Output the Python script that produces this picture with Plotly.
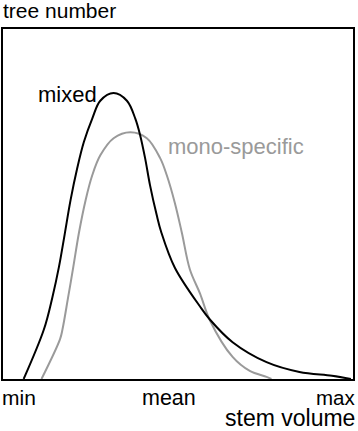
import plotly.graph_objects as go

# stem volume (0 = min, 100 = max) and relative tree number (0-100)
mixed_x = [5.9, 11.7, 14.1, 16.0, 17.6, 19.3, 21.2, 23.1, 25.5, 27.8, 31.6, 35.4, 37.8, 39.2,
           40.6, 42.0, 43.9, 45.2, 49.1, 56.3, 59.1, 65.6, 75.3, 84.7, 94.0, 99.4]
mixed_y = [0.0, 14.2, 23.3, 32.1, 41.2, 51.1, 60.2, 67.7, 74.4, 79.5, 81.7, 79.5, 74.4, 69.6,
           63.1, 55.4, 46.9, 42.0, 31.8, 20.7, 17.0, 10.5, 4.8, 2.0, 0.9, 0.0]

mono_x = [11.0, 16.3, 17.0, 18.6, 20.1, 21.7, 23.6, 25.5, 27.8, 31.6, 36.4, 41.1, 44.9, 46.8,
          49.1, 51.1, 53.4, 56.3, 59.1, 65.6, 70.5, 75.3, 76.7]
mono_y = [0.0, 11.4, 14.2, 23.3, 32.1, 41.8, 51.1, 58.2, 63.9, 68.8, 70.5, 68.8, 63.1, 58.2,
          50.3, 41.8, 31.3, 24.4, 16.8, 6.3, 2.3, 0.6, 0.0]

series_names = ["mixed", "mono-specific"]
x_labels = ["min", "mean", "max"]
x_title = "stem volume"
y_title = "tree number"

FONT = "Liberation Sans, Arial, sans-serif"
GRAY = "#9a9a9a"

fig = go.Figure()
fig.add_trace(go.Scatter(x=mono_x, y=mono_y, mode="lines", name=series_names[1],
                         line=dict(color=GRAY, width=2, shape="spline", smoothing=1.0)))
fig.add_trace(go.Scatter(x=mixed_x, y=mixed_y, mode="lines", name=series_names[0],
                         line=dict(color="black", width=2, shape="spline", smoothing=1.0)))

def ann(text, x, y, xanchor, size, color="black", xshift=0):
    fig.add_annotation(text=text, x=x, y=y, xref="paper", yref="paper", xanchor=xanchor,
                       yanchor="middle", showarrow=False, xshift=xshift,
                       font=dict(family=FONT, size=size, color=color))

ann(y_title, 0.0, 1.054, "left", 21, xshift=-2)
ann(series_names[0], 0.100, 0.813, "left", 22, xshift=-2)
ann(series_names[1], 0.466, 0.665, "left", 22, GRAY)
ann(x_labels[0], 0.0, -0.054, "left", 21, xshift=-3)
ann(x_labels[1], 0.395, -0.054, "left", 21.5, xshift=-1)
ann(x_labels[2], 1.0, -0.054, "right", 20.5, xshift=4)
ann(x_title, 1.0, -0.112, "right", 23, xshift=4)

axis_common = dict(showgrid=False, zeroline=False, showticklabels=False, ticks="",
                   showline=True, linecolor="black", linewidth=2, mirror=True)
fig.update_xaxes(range=[0, 100], **axis_common)
fig.update_yaxes(range=[0, 100], **axis_common)

fig.update_layout(width=358, height=431, margin=dict(l=3, r=5, t=29, b=52, autoexpand=False),
                  paper_bgcolor="white", plot_bgcolor="white", showlegend=False,
                  font=dict(family=FONT, size=21))

fig.write_html("out.html", config={"displayModeBar": False},
               post_script="document.body.style.margin='0';document.body.style.overflow='hidden';")
